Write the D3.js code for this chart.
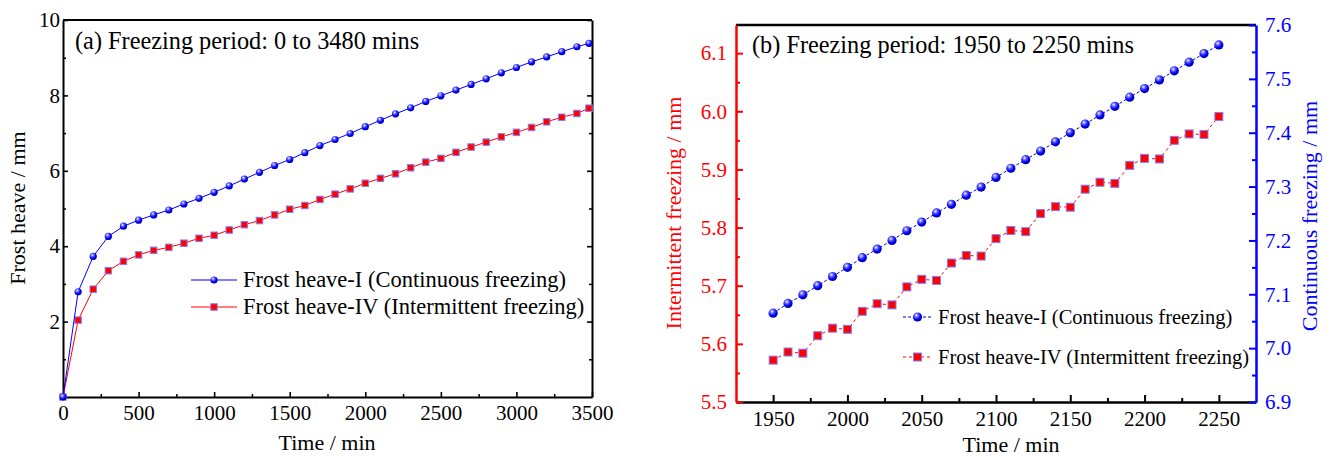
<!DOCTYPE html>
<html>
<head>
<meta charset="utf-8">
<script src="https://cdn.jsdelivr.net/npm/d3@7"></script>
<style>
  body { margin: 0; background: #fff; }
  svg { font-family: "Liberation Serif", "Times New Roman", serif; }
</style>
</head>
<body>
<svg id="chart" width="1333" height="456"></svg>
<script>
// ---- panel (a): whole freezing period ----
var timeA = [0, 100, 200, 300, 400, 500, 600, 700, 800, 900, 1000, 1100, 1200, 1300, 1400, 1500, 1600, 1700,
             1800, 1900, 2000, 2100, 2200, 2300, 2400, 2500, 2600, 2700, 2800, 2900, 3000, 3100, 3200, 3300, 3400, 3480];
var heaveI_A = [0, 2.79, 3.73, 4.26, 4.53, 4.69, 4.83, 4.96, 5.12, 5.27, 5.43, 5.6, 5.78, 5.96, 6.14, 6.3, 6.48, 6.67,
                6.83, 6.99, 7.17, 7.34, 7.51, 7.67, 7.84, 7.99, 8.14, 8.29, 8.44, 8.6, 8.74, 8.89, 9.02, 9.16, 9.29, 9.38];
var heaveIV_A = [0, 2.04, 2.86, 3.35, 3.6, 3.77, 3.89, 3.97, 4.08, 4.21, 4.29, 4.43, 4.57, 4.68, 4.83, 4.98, 5.08, 5.24,
                 5.38, 5.52, 5.67, 5.8, 5.92, 6.08, 6.23, 6.33, 6.49, 6.63, 6.76, 6.9, 7.02, 7.15, 7.3, 7.42, 7.52, 7.66];
var xTicksA = [0, 500, 1000, 1500, 2000, 2500, 3000, 3500];
var yTicksA = [2, 4, 6, 8, 10];

// ---- panel (b): 1950 to 2250 mins ----
var timeB = [1950, 1960, 1970, 1980, 1990, 2000, 2010, 2020, 2030, 2040, 2050, 2060, 2070, 2080, 2090, 2100,
             2110, 2120, 2130, 2140, 2150, 2160, 2170, 2180, 2190, 2200, 2210, 2220, 2230, 2240, 2250];
var heaveI_B = [7.065, 7.083, 7.099, 7.116, 7.133, 7.150, 7.168, 7.184, 7.200, 7.218, 7.234, 7.251, 7.267, 7.284, 7.299, 7.317,
                7.334, 7.350, 7.366, 7.383, 7.400, 7.416, 7.433, 7.449, 7.466, 7.482, 7.498, 7.515, 7.531, 7.547, 7.563];
var heaveIV_B = [5.572, 5.586, 5.584, 5.614, 5.627, 5.625, 5.656, 5.669, 5.667, 5.698, 5.711, 5.709, 5.739, 5.752, 5.751, 5.781,
                 5.795, 5.793, 5.824, 5.836, 5.835, 5.866, 5.878, 5.876, 5.907, 5.919, 5.918, 5.950, 5.961, 5.960, 5.991];
var xTicksB = [1950, 2000, 2050, 2100, 2150, 2200, 2250];
var yTicksB_left = [5.5, 5.6, 5.7, 5.8, 5.9, 6.0, 6.1];
var yTicksB_right = [6.9, 7.0, 7.1, 7.2, 7.3, 7.4, 7.5, 7.6];

var labelI = 'Frost heave-I (Continuous freezing)';
var labelIV = 'Frost heave-IV (Intermittent freezing)';

var svg = d3.select('#chart');
var FS = 21;       // tick labels
var FS_T = 22;     // axis titles
var FS_H = 24.3;   // panel headings
var SERIF = '"Liberation Serif", "Times New Roman", serif';

// ball gradient for the circle markers
var grad = svg.append('defs').append('radialGradient')
    .attr('id', 'ball').attr('cx', '38%').attr('cy', '32%').attr('r', '65%');
grad.append('stop').attr('offset', '0%').attr('stop-color', '#ffffff');
grad.append('stop').attr('offset', '30%').attr('stop-color', '#6a6aff');
grad.append('stop').attr('offset', '70%').attr('stop-color', '#0000ff');
grad.append('stop').attr('offset', '100%').attr('stop-color', '#0000b0');

function zip(xs, ys) {
  return xs.map(function(x, i) { return [x, ys[i]]; });
}

function styleAxis(g, color, width) {
  g.attr('font-family', SERIF);
  g.select('.domain').attr('stroke', color).attr('stroke-width', width);
  g.selectAll('.tick line').attr('stroke', color).attr('stroke-width', width * 0.8);
  g.selectAll('.tick text').attr('fill', color).attr('font-size', FS);
}

function drawSeries(g, pts, x, y, color, dash, shape, size) {
  g.append('path')
    .datum(pts)
    .attr('fill', 'none')
    .attr('stroke', color)
    .attr('stroke-width', 1)
    .attr('stroke-dasharray', dash)
    .attr('d', d3.line().x(function(d) { return x(d[0]); }).y(function(d) { return y(d[1]); }));
  drawMarkers(g, pts.map(function(d) { return [x(d[0]), y(d[1])]; }), shape, size);
}

function drawMarkers(g, xy, shape, size) {
  if (shape == 'circle') {
    g.selectAll(null).data(xy).enter().append('circle')
      .attr('cx', function(d) { return d[0]; })
      .attr('cy', function(d) { return d[1]; })
      .attr('r', size)
      .attr('fill', 'url(#ball)');
  } else {
    g.selectAll(null).data(xy).enter().append('rect')
      .attr('x', function(d) { return d[0] - size / 2; })
      .attr('y', function(d) { return d[1] - size / 2; })
      .attr('width', size).attr('height', size)
      .attr('fill', '#ff0000')
      .attr('stroke', '#8080ff')
      .attr('stroke-width', 1);
  }
}

function legendRow(g, x0, x1, y, color, dash, shape, size, text, fs) {
  g.append('line').attr('x1', x0).attr('x2', x1).attr('y1', y).attr('y2', y)
    .attr('stroke', color).attr('stroke-width', 1).attr('stroke-dasharray', dash);
  drawMarkers(g, [[(x0 + x1) / 2, y]], shape, size);
  g.append('text').attr('x', x1 + 6).attr('y', y).attr('dy', '0.33em')
    .attr('font-size', fs).attr('fill', '#000').text(text);
}

// ================= panel (a) =================
var xA = d3.scaleLinear().domain([0, 3500]).range([63, 592]);
var yA = d3.scaleLinear().domain([0, 10]).range([397, 20]);
var gA = svg.append('g');

gA.append('g').attr('transform', 'translate(0,397)')
  .call(d3.axisBottom(xA).tickValues(d3.range(250, 3500, 500)).tickSize(-3).tickFormat('').tickSizeOuter(0))
  .call(function(g) { g.select('.domain').remove(); g.selectAll('line').attr('stroke', '#000').attr('stroke-width', 1.5); });
gA.append('g').attr('transform', 'translate(0,397)')
  .call(d3.axisBottom(xA).tickValues(xTicksA).tickSize(-5).tickPadding(8).tickSizeOuter(0).tickFormat(d3.format('d')))
  .call(function(g) { styleAxis(g, '#000', 2); });

[[63, d3.axisLeft, 3], [592, d3.axisRight, 0]].forEach(function(s) {
  gA.append('g').attr('transform', 'translate(' + s[0] + ',0)')
    .call(s[1](yA).tickValues([1, 3, 5, 7, 9]).tickSize(-3).tickFormat('').tickSizeOuter(0))
    .call(function(g) { g.select('.domain').remove(); g.selectAll('line').attr('stroke', '#000').attr('stroke-width', 1.5); });
  var ax = s[1](yA).tickValues(yTicksA).tickSize(-5).tickPadding(s[2]).tickSizeOuter(0);
  if (s[2] == 0) ax.tickFormat('');
  gA.append('g').attr('transform', 'translate(' + s[0] + ',0)')
    .call(ax)
    .call(function(g) { styleAxis(g, '#000', 2); });
});
gA.append('line').attr('x1', 63).attr('x2', 592).attr('y1', 20).attr('y2', 20)
  .attr('stroke', '#000').attr('stroke-width', 2);

drawSeries(gA, zip(timeA, heaveIV_A), xA, yA, '#ff0000', null, 'square', 6.5);
drawSeries(gA, zip(timeA, heaveI_A), xA, yA, '#0000ff', null, 'circle', 3.6);

gA.append('text').attr('x', 75).attr('y', 49).attr('font-size', FS_H).text('(a) Freezing period: 0 to 3480 mins');
gA.append('text').attr('x', 327).attr('y', 450).attr('text-anchor', 'middle').attr('font-size', FS_T).text('Time / min');
gA.append('text').attr('transform', 'translate(25,208) rotate(-90)').attr('text-anchor', 'middle')
  .attr('font-size', FS_T).text('Frost heave / mm');

legendRow(gA, 191, 237, 280, '#0000ff', null, 'circle', 3.6, labelI, 22.5);
legendRow(gA, 191, 237, 307, '#ff0000', null, 'square', 6.5, labelIV, 22.5);

// ================= panel (b) =================
var xB = d3.scaleLinear().domain([1925, 2275]).range([736, 1256]);
var yBl = d3.scaleLinear().domain([5.5, 6.1484]).range([402, 25]);
var yBr = d3.scaleLinear().domain([6.9, 7.6]).range([402, 25]);
var gB = svg.append('g');

gB.append('g').attr('transform', 'translate(0,402)')
  .call(d3.axisBottom(xB).tickValues(d3.range(1975, 2275, 50)).tickSize(-4).tickFormat('').tickSizeOuter(0))
  .call(function(g) { g.select('.domain').remove(); g.selectAll('line').attr('stroke', '#000').attr('stroke-width', 2); });
gB.append('g').attr('transform', 'translate(0,402)')
  .call(d3.axisBottom(xB).tickValues(xTicksB).tickSize(-7).tickPadding(9.5).tickSizeOuter(0).tickFormat(d3.format('d')))
  .call(function(g) { styleAxis(g, '#000', 2.5); });
gB.append('line').attr('x1', 736).attr('x2', 1256).attr('y1', 25).attr('y2', 25)
  .attr('stroke', '#000').attr('stroke-width', 2.5);

gB.append('g').attr('transform', 'translate(736,0)')
  .call(d3.axisLeft(yBl).tickValues([5.55, 5.65, 5.75, 5.85, 5.95, 6.05]).tickSize(-4).tickFormat('').tickSizeOuter(0))
  .call(function(g) { g.select('.domain').remove(); g.selectAll('line').attr('stroke', '#ff0000').attr('stroke-width', 2); });
gB.append('g').attr('transform', 'translate(736,0)')
  .call(d3.axisLeft(yBl).tickValues(yTicksB_left).tickSize(-7).tickPadding(9).tickSizeOuter(0).tickFormat(d3.format('.1f')))
  .call(function(g) { styleAxis(g, '#ff0000', 2.5); });

gB.append('g').attr('transform', 'translate(1256,0)')
  .call(d3.axisRight(yBr).tickValues([6.95, 7.05, 7.15, 7.25, 7.35, 7.45, 7.55]).tickSize(-4).tickFormat('').tickSizeOuter(0))
  .call(function(g) { g.select('.domain').remove(); g.selectAll('line').attr('stroke', '#0000ff').attr('stroke-width', 2); });
gB.append('g').attr('transform', 'translate(1256,0)')
  .call(d3.axisRight(yBr).tickValues(yTicksB_right).tickSize(-7).tickPadding(9).tickSizeOuter(0).tickFormat(d3.format('.1f')))
  .call(function(g) { styleAxis(g, '#0000ff', 2.5); });

drawSeries(gB, zip(timeB, heaveIV_B), xB, yBl, '#ff0000', '3,3', 'square', 8);
drawSeries(gB, zip(timeB, heaveI_B), xB, yBr, '#0000cc', '3,2', 'circle', 4.6);

gB.append('text').attr('x', 752).attr('y', 53).attr('font-size', FS_H).text('(b) Freezing period: 1950 to 2250 mins');
gB.append('text').attr('x', 1011).attr('y', 452).attr('text-anchor', 'middle').attr('font-size', FS_T).text('Time / min');
gB.append('text').attr('transform', 'translate(681,213) rotate(-90)').attr('text-anchor', 'middle')
  .attr('font-size', FS_T).attr('fill', '#ff0000').text('Intermittent freezing / mm');
gB.append('text').attr('transform', 'translate(1317,216) rotate(-90)').attr('text-anchor', 'middle')
  .attr('font-size', FS_T).attr('fill', '#0000ff').text('Continuous freezing / mm');

legendRow(gB, 903, 932, 317, '#0000cc', '3,2', 'circle', 4.6, labelI, 20.5);
legendRow(gB, 903, 932, 357, '#ff0000', '3,3', 'square', 8, labelIV, 20.5);
</script>
</body>
</html>
